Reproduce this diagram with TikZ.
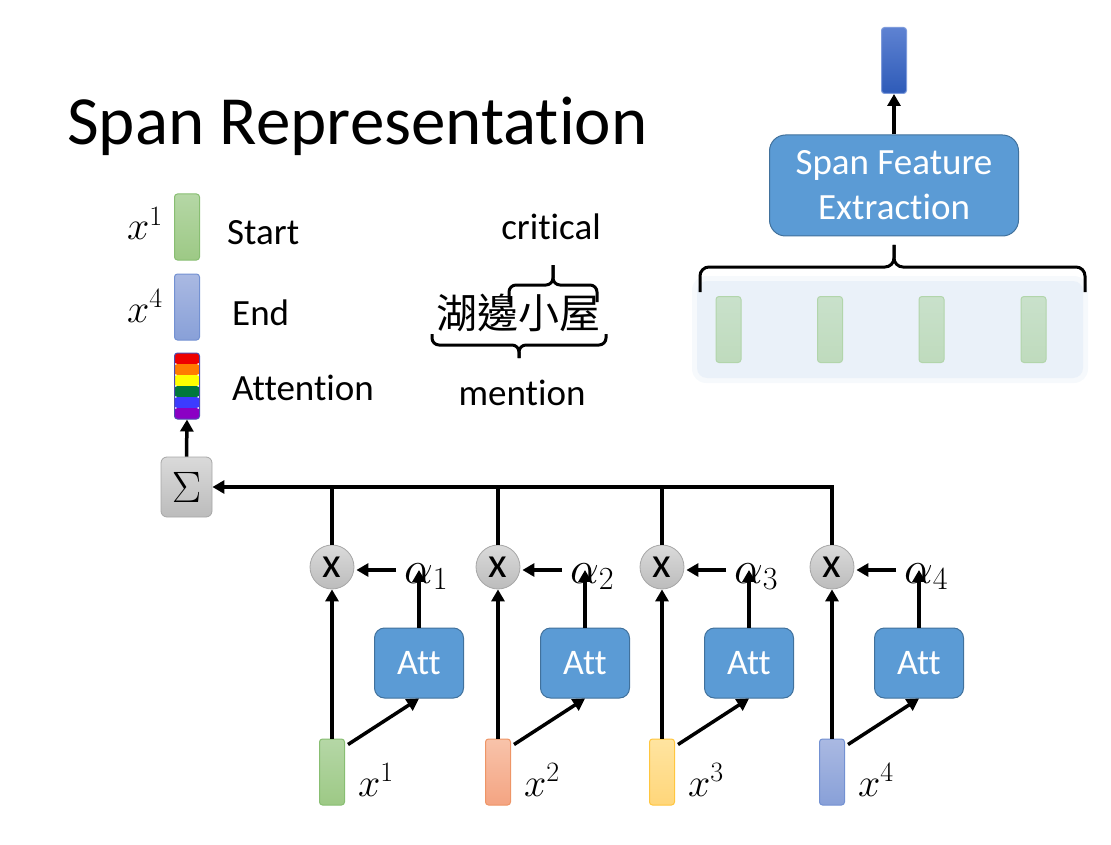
\RequirePackage{fix-cm}
\documentclass[tikz,border=0pt]{standalone}
\usepackage{fontspec}
\setmainfont{Carlito}[Ligatures={NoCommon,NoContextual,NoRare},Contextuals=NoAlternate]
\newfontfamily\cjk{Noto Sans CJK TC}
\newcommand\tbrk{\kern0pt{}}
\usetikzlibrary{arrows.meta,shadings}
\definecolor{attblue}{HTML}{5B9BD5}
\definecolor{attborder}{HTML}{41719C}
\definecolor{gtop}{HTML}{B5D7A6}
\definecolor{gbot}{HTML}{9DC985}
\definecolor{gbrd}{HTML}{88BE72}
\definecolor{otop}{HTML}{F8C3AA}
\definecolor{obot}{HTML}{F4A482}
\definecolor{obrd}{HTML}{EE9566}
\definecolor{ytop}{HTML}{FFE4A0}
\definecolor{ybot}{HTML}{FFD67A}
\definecolor{ybrd}{HTML}{FFC63F}
\definecolor{btop}{HTML}{AAB9E2}
\definecolor{bbot}{HTML}{88A0D8}
\definecolor{bbrd}{HTML}{7391D2}
\definecolor{ftop}{HTML}{C9E1CB}
\definecolor{fbot}{HTML}{BFDBBD}
\definecolor{fbrd}{HTML}{B2D5AB}
\definecolor{panel}{HTML}{EAF1F9}
\definecolor{dtop}{HTML}{5E82D2}
\definecolor{dbot}{HTML}{2E5BB8}
\definecolor{gtopc}{HTML}{DADADA}
\definecolor{gbotc}{HTML}{BCBCBC}
\definecolor{rbred}{HTML}{EE0000}
\definecolor{rborange}{HTML}{FF7C00}
\definecolor{rbyellow}{HTML}{FFFF00}
\definecolor{rbgreen}{HTML}{00783C}
\definecolor{rbblue}{HTML}{3C3CFF}
\definecolor{rbpurple}{HTML}{8B00C4}
\begin{document}
\begin{tikzpicture}[x=1pt,y=-1pt,
  conn/.style={line width=3.5pt},
  arr/.style={conn,-{Triangle[length=12pt,width=13pt]}},
  bracestyle/.style={line width=3pt,rounded corners=9pt},
  vbar/.style={minimum width=25pt,minimum height=66pt,rounded corners=3pt,inner sep=0pt,line width=1pt},
  greenbar/.style={vbar,top color=gtop,bottom color=gbot,draw=gbrd},
  orangebar/.style={vbar,top color=otop,bottom color=obot,draw=obrd},
  yellowbar/.style={vbar,top color=ytop,bottom color=ybot,draw=ybrd},
  bluebar/.style={vbar,top color=btop,bottom color=bbot,draw=bbrd},
  fadedbar/.style={vbar,top color=ftop,bottom color=fbot,draw=fbrd},
  attbox/.style={fill=attblue,draw=attborder,line width=1pt,rounded corners=10pt,minimum width=89pt,minimum height=70pt,text=white,font=\fontsize{36}{43}\selectfont},
  mulnode/.style={circle,minimum size=44pt,inner sep=0pt,draw=gray!70,line width=0.8pt,top color=gtopc,bottom color=gbotc,font=\fontsize{43}{48}\selectfont},
  bigtxt/.style={font=\fontsize{37}{45}\selectfont},
  mathtxt/.style={font=\fontsize{40}{48}\selectfont,inner sep=0pt},
  alphatxt/.style={font=\fontsize{46}{52}\selectfont,inner sep=0pt}
]
\useasboundingbox (0,0) rectangle (1111,845);

% title
\node[anchor=base west,inner sep=0pt,font=\fontsize{69}{80}\selectfont] (title) at (67,145) {Span Representat\tbrk ion};

% legend
\node[greenbar] (lg1) at (187,227) {};
\node[bluebar] (lg2) at (187,307) {};
\node[vbar,draw=gray!60!blue,rounded corners=3pt,
  path picture={
    \foreach \k/\c in {0/rbred,1/rborange,2/rbyellow,3/rbgreen,4/rbblue,5/rbpurple}
      \fill[\c] ([yshift=-\k*11pt]path picture bounding box.north west) rectangle ([yshift=-(\k+1)*11pt]path picture bounding box.north east);
  }] (rb) at (187,386) {};
\node[mathtxt,anchor=base west] (lx1) at (127,240) {$x^1$};
\node[mathtxt,anchor=base west] (lx4) at (127,322) {$x^4$};
\node[bigtxt,anchor=west,inner sep=0pt] (lstart) at (227,233) {Start};
\node[bigtxt,anchor=west,inner sep=0pt] (lend) at (232,313) {End};
\node[bigtxt,anchor=west,inner sep=0pt] (latt) at (232,388) {Attent\tbrk ion};

% critical / mention
\node[bigtxt,inner sep=0pt] (crit) at (551,227) {critical};
\node[font=\cjk\fontsize{41}{48}\selectfont,inner sep=0pt] (zh) at (518,313) {湖邊小屋};
\node[bigtxt,inner sep=0pt] (ment) at (522,393) {mention};
\draw[bracestyle,rounded corners=7pt] (509,302) -- (509,285) -- (553,285) -- (553,265);
\draw[bracestyle,rounded corners=7pt] (597,302) -- (597,285) -- (553,285) -- (553,265);
\draw[bracestyle,rounded corners=7pt] (432,334) -- (432,345) -- (519,345) -- (519,358);
\draw[bracestyle,rounded corners=7pt] (606,334) -- (606,345) -- (519,345) -- (519,358);

% sigma
\node[minimum width=51pt,minimum height=60pt,rounded corners=6pt,inner sep=0pt,draw=gray!70,line width=0.8pt,top color=gtopc,bottom color=gbotc,font=\fontsize{44}{50}\selectfont] (sig) at (186.5,487) {$\Sigma$};
\draw[arr] (sig.north) -- (rb.south);

% columns
\foreach \i/\cx/\sty in {1/332/greenbar,2/498/orangebar,3/662/yellowbar,4/832/bluebar}{
  \node[\sty] (b\i) at (\cx,772) {};
  \node[mulnode] (c\i) at (\cx,567) {x};
  \node[attbox] (a\i) at (\cx+87,663) {Att};
  \node[alphatxt,anchor=base west] (al\i) at (\cx+72,583) {$\alpha_{\i}$};
  \node[mathtxt,anchor=base west] (xl\i) at (\cx+26,796) {$x^{\i}$};
  \draw[arr] (b\i.north) -- (c\i.south);
  \draw[arr] ([xshift=3pt,yshift=-6pt]b\i.north east) -- (a\i.south);
  \draw[arr] (a\i.north) -- ([yshift=-7pt]a\i.north |- al\i.north);
  \draw[arr] ([xshift=-8pt,yshift=-3pt]c\i.center -| al\i.west) -- ([xshift=2pt,yshift=-3pt]c\i.east);
}
\draw[arr] (c4.north) |- (sig.east);
\foreach \i in {1,2,3}{
  \draw[conn] (c\i.north) -- (c\i.north |- sig.east);
}

% span feature extraction
\fill[panel!45!white,rounded corners=14pt] (692,276) rectangle (1088,383);
\fill[panel,rounded corners=10pt] (697,281) rectangle (1083,378);
\node[fadedbar] (f1) at (728.5,329.5) {};
\node[fadedbar] (f2) at (830,329.5) {};
\node[fadedbar] (f3) at (931.5,329.5) {};
\node[fadedbar] (f4) at (1033.5,329.5) {};
\node[fill=attblue,draw=attborder,line width=1pt,rounded corners=16pt,minimum width=249pt,minimum height=101pt,text=white,align=center,bigtxt] (sfe) at (894,185.5) {Span Feature\\Extract\tbrk ion};
\draw[bracestyle] (700,292) -- (700,267) -- (894,267) -- (894,245);
\draw[bracestyle] (1085,292) -- (1085,267) -- (894,267) -- (894,245);
\node[vbar,top color=dtop,bottom color=dbot,draw=dtop!80!white] (out) at (894,60.5) {};
\draw[arr] (sfe.north) -- (out.south);
\end{tikzpicture}
\end{document}
